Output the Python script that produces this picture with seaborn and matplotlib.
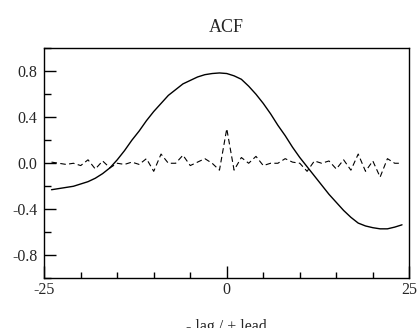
import numpy as np
import pandas as pd
import matplotlib
matplotlib.use("Agg")
import matplotlib.pyplot as plt
import seaborn as sns
from matplotlib.ticker import MultipleLocator

# lags from -24 to 24
lags = list(range(-24, 25))

# smooth cross correlation (solid line)
acf_main = [-0.23, -0.22, -0.21, -0.20, -0.18, -0.16, -0.13, -0.09, -0.04, 0.03,
            0.11, 0.20, 0.28, 0.37, 0.45, 0.52, 0.59, 0.64, 0.69, 0.72,
            0.75, 0.77, 0.78, 0.785, 0.78, 0.76, 0.73, 0.67, 0.60, 0.52,
            0.43, 0.33, 0.24, 0.14, 0.05, -0.03, -0.11, -0.19, -0.27, -0.34,
            -0.41, -0.47, -0.52, -0.545, -0.56, -0.57, -0.57, -0.555, -0.535]

# noisy series (dashed line)
acf_noise = [0.01, 0.0, -0.01, 0.0, -0.02, 0.03, -0.05, 0.02, -0.04, 0.0,
             -0.01, 0.01, -0.01, 0.04, -0.07, 0.08, 0.0, 0.0, 0.07, -0.02,
             0.01, 0.04, 0.0, -0.06, 0.30, -0.06, 0.05, 0.0, 0.06, -0.02,
             0.0, 0.0, 0.04, 0.01, 0.0, -0.07, 0.02, 0.0, 0.02, -0.05,
             0.03, -0.06, 0.08, -0.07, 0.02, -0.12, 0.04, 0.0, 0.0]

df = pd.DataFrame({"lag": lags, "main": acf_main, "noise": acf_noise})

sns.set_style("white")
plt.rcParams["font.family"] = ["Liberation Serif", "DejaVu Serif"]

fig = plt.figure(figsize=(4.17, 3.28), dpi=100)
ax = fig.add_axes([0.106, 0.1515, 0.8756, 0.7015])

sns.lineplot(data=df, x="lag", y="main", ax=ax, color="black", linewidth=1.0)
sns.lineplot(data=df, x="lag", y="noise", ax=ax, color="black", linewidth=0.8,
             linestyle=(0, (5, 3)))

ax.set_xlim(-25, 25)
ax.set_ylim(-1, 1)
ax.set_xticks([-25, 0, 25])
ax.set_yticks([-0.8, -0.4, 0.0, 0.4, 0.8])
ax.set_yticklabels(["-0.8", "-0.4", "0.0", "0.4", "0.8"])
ax.set_xticklabels(["-25", "0", "25"])
ax.xaxis.set_minor_locator(MultipleLocator(5))
ax.yaxis.set_minor_locator(MultipleLocator(0.2))
ax.tick_params(which="both", direction="in", bottom=True, left=True,
               top=False, right=False, color="black", width=1.0, labelsize=11.5)
ax.tick_params(axis="x", which="major", length=8.5, pad=2.5)
ax.tick_params(axis="x", which="minor", length=4)
ax.tick_params(axis="y", which="major", length=8.5, pad=5)
ax.tick_params(axis="y", which="minor", length=4.8)
for s in ax.spines.values():
    s.set_color("black")
    s.set_linewidth(1.0)

ax.set_title("ACF", fontsize=13, pad=11.5)
# the reference shows this label clipped by the bottom edge
ax.set_xlabel("- lag / + lead", fontsize=11.5, labelpad=15)
ax.set_ylabel("")

fig.savefig("out.png", dpi=100)
